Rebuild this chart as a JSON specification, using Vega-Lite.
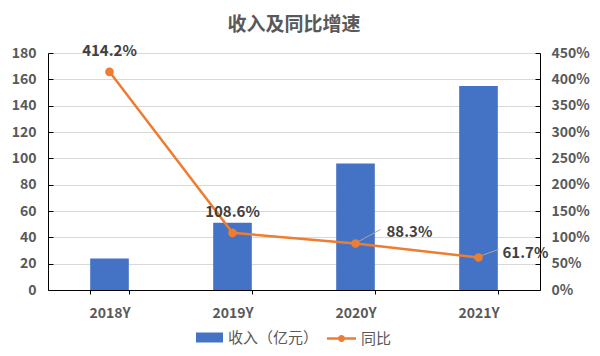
{
  "$schema": "https://vega.github.io/schema/vega-lite/v6.json",
  "width": 492,
  "height": 237,
  "autosize": "none",
  "padding": {"left": 48, "top": 53, "right": 60, "bottom": 66},
  "background": "white",
  "title": {"text": "收入及同比增速", "fontSize": 19, "font": "Noto Sans CJK SC", "fontWeight": "bold", "color": "#595959", "anchor": "middle", "offset": 9},
  "data": {"values": [
    {"year": "2018Y", "rev": 24, "g": 4.142},
    {"year": "2019Y", "rev": 51, "g": 1.086},
    {"year": "2020Y", "rev": 96, "g": 0.883},
    {"year": "2021Y", "rev": 155, "g": 0.617}
  ]},
  "encoding": {
    "x": {"field": "year", "type": "nominal", "sort": null,
      "scale": {"paddingInner": 0.686, "paddingOuter": 0.343},
      "axis": {"title": null, "labelAngle": 0, "tickBand": "extent", "tickSize": 4, "tickColor": "#000000", "domainColor": "#000000", "labelPadding": 12, "grid": false, "labelFontSize": 14, "labelFontWeight": "bold", "labelColor": "#595959", "labelFont": "Noto Sans CJK SC"}}
  },
  "layer": [
    {
      "mark": {"type": "bar"},
      "encoding": {
        "y": {"field": "rev", "type": "quantitative", "scale": {"domain": [0, 180]},
          "axis": {"title": null, "values": [0, 20, 40, 60, 80, 100, 120, 140, 160, 180], "grid": true, "gridColor": "#D9D9D9", "domainColor": "#000000", "ticks": true, "tickSize": -5, "tickColor": "#000000", "labelPadding": 17, "labelFontSize": 14, "labelFontWeight": "bold", "labelColor": "#595959", "labelFont": "Noto Sans CJK SC"}},
        "fill": {"datum": "收入（亿元）", "scale": {"range": ["#4472C4"]},
          "legend": {"title": null, "orient": "bottom", "symbolType": "M-1,-0.37H1V0.37H-1Z", "symbolSize": 729, "symbolStrokeWidth": 0, "labelFontSize": 15, "labelColor": "#595959", "labelFont": "Noto Sans CJK SC", "labelOffset": 5}}
      }
    },
    {
      "encoding": {
        "y": {"field": "g", "type": "quantitative", "scale": {"domain": [0, 4.5]},
          "axis": {"title": null, "orient": "right", "format": ".0%", "values": [0, 0.5, 1, 1.5, 2, 2.5, 3, 3.5, 4, 4.5], "grid": false, "domainColor": "#000000", "ticks": true, "tickSize": -5, "tickColor": "#000000", "labelPadding": 16, "labelFontSize": 14, "labelFontWeight": "bold", "labelColor": "#595959", "labelFont": "Noto Sans CJK SC"}}
      },
      "layer": [
        {
          "mark": {"type": "line", "strokeWidth": 2.5, "point": {"filled": true, "size": 45, "color": "#ED7D31"}},
          "encoding": {
            "stroke": {"datum": "同比", "scale": {"range": ["#ED7D31"]},
              "legend": {"title": null, "orient": "bottom", "symbolType": "M-1,-0.086H1V0.086H-1Z M-0.24,0A0.24,0.24 0 1,1 0.24,0A0.24,0.24 0 1,1 -0.24,0Z", "symbolSize": 841, "symbolStrokeWidth": 0, "labelFontSize": 15, "labelColor": "#595959", "labelFont": "Noto Sans CJK SC", "labelOffset": 5,
                "encode": {"symbols": {"update": {"fill": {"value": "#ED7D31"}, "strokeWidth": {"value": 0}}}}}}
          }
        },
        {
          "transform": [{"filter": "datum.year == '2020Y'"}],
          "mark": {"type": "rule", "color": "#A6A6A6", "strokeWidth": 1, "xOffset": 3, "yOffset": -2, "x2Offset": 25, "y2Offset": -14},
          "encoding": {"x2": {"field": "year"}, "y2": {"field": "g"}}
        },
        {
          "transform": [{"filter": "datum.year == '2021Y'"}],
          "mark": {"type": "rule", "color": "#A6A6A6", "strokeWidth": 1, "xOffset": 3, "yOffset": -2, "x2Offset": 20, "y2Offset": -8},
          "encoding": {"x2": {"field": "year"}, "y2": {"field": "g"}}
        },
        {
          "transform": [{"filter": "datum.year == '2018Y' || datum.year == '2019Y'"}],
          "mark": {"type": "text", "dy": -21, "fontSize": 15, "fontWeight": "bold", "color": "#404040", "font": "Noto Sans CJK SC"},
          "encoding": {"text": {"field": "g", "type": "quantitative", "format": ".1%"}}
        },
        {
          "transform": [{"filter": "datum.year == '2020Y'"}],
          "mark": {"type": "text", "align": "left", "dx": 31, "dy": -11, "fontSize": 15, "fontWeight": "bold", "color": "#404040", "font": "Noto Sans CJK SC"},
          "encoding": {"text": {"field": "g", "type": "quantitative", "format": ".1%"}}
        },
        {
          "transform": [{"filter": "datum.year == '2021Y'"}],
          "mark": {"type": "text", "align": "left", "dx": 24, "dy": -5, "fontSize": 15, "fontWeight": "bold", "color": "#404040", "font": "Noto Sans CJK SC"},
          "encoding": {"text": {"field": "g", "type": "quantitative", "format": ".1%"}}
        }
      ]
    }
  ],
  "resolve": {"scale": {"y": "independent"}},
  "config": {
    "view": {"stroke": null},
    "legend": {"offset": 4, "layout": {"bottom": {"anchor": "middle", "direction": "horizontal", "margin": 8}}}
  }
}
